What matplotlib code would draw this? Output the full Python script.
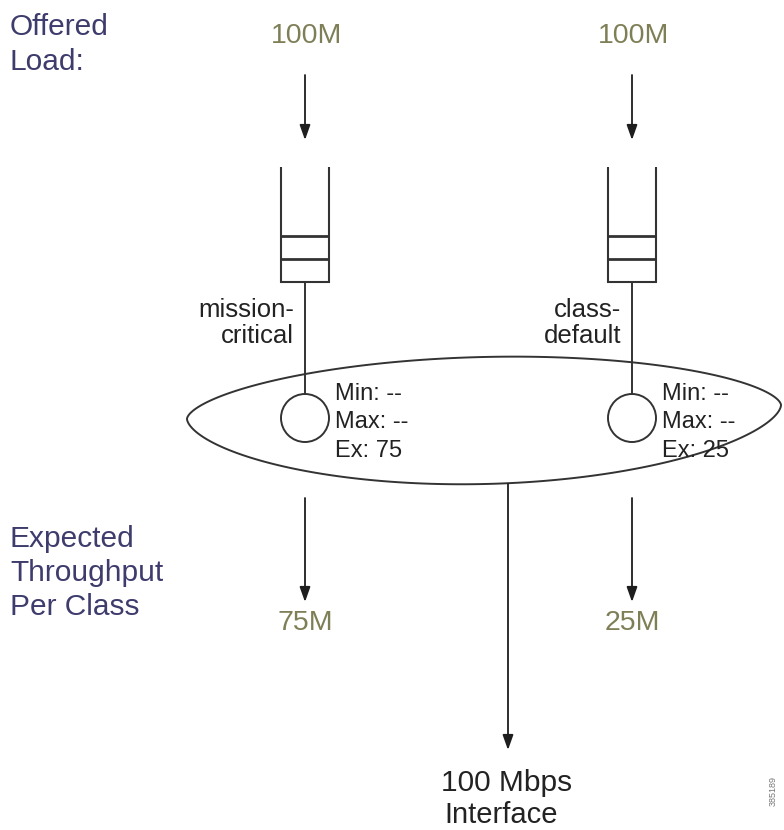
import numpy as np
import matplotlib
matplotlib.use("Agg")
import matplotlib.pyplot as plt
from matplotlib.patches import Circle, Polygon

# ---- data ----
class_names = [["mission-", "critical"], ["class-", "default"]]
offered_load = [100, 100]          # M
min_values = ["--", "--"]
max_values = ["--", "--"]
excess_values = [75, 25]
expected_throughput = [75, 25]     # M
interface_rate = 100               # Mbps
figure_id = "385189"
offered_label = ["Offered", "Load:"]
expected_label = ["Expected", "Throughput", "Per Class"]

# ---- layout (pixel coordinates) ----
W, H = 784, 830
class_x = [305, 632]
navy = "#3e3c6c"
olive = "#7f7f57"
ink = "#333333"
txt = "#222222"
plt.rcParams["font.family"] = ["Liberation Sans", "DejaVu Sans"]

fig = plt.figure(figsize=(W / 100, H / 100), dpi=100)
ax = fig.add_axes([0, 0, 1, 1])
ax.set_xlim(0, W)
ax.set_ylim(H, 0)
ax.axis("off")


def arrow(x, y0, y1):
    ax.annotate("", xy=(x, y1), xytext=(x, y0),
                arrowprops=dict(arrowstyle="-|>,head_length=0.9,head_width=0.32",
                                color="#1e1e1e", lw=1.3, shrinkA=0, shrinkB=0,
                                mutation_scale=10))


def lines(x, baselines, words, **kw):
    for yb, w in zip(baselines, words):
        ax.text(x, yb, w, va="baseline", **kw)


# left labels
lines(10, [35, 70], offered_label, color=navy, fontsize=21.5, ha="left")
lines(10, [547, 581, 615], expected_label, color=navy, fontsize=21.5, ha="left")

# lens-shaped ellipse
L = np.array([187.0, 419.0])
R = np.array([781.0, 405.0])
C = (L + R) / 2
a = np.linalg.norm(R - L) / 2
d = (R - L) / (2 * a)
n = np.array([-d[1], d[0]])
th = np.linspace(0, np.pi, 300)
u = -np.cos(th)
f = (1 - u ** 2) ** 0.6
top = C + np.outer(u * a, d) - np.outer(55 * f, n)
bot = C + np.outer(u * a, d) + np.outer(72 * f, n)
pts = np.vstack([top, bot[::-1]])
ax.add_patch(Polygon(pts, closed=True, fill=False, ec=ink, lw=1.4))

for i, cx in enumerate(class_x):
    # offered load
    ax.text(cx + 2, 43, f"{offered_load[i]}M", color=olive, fontsize=20.5,
            ha="center", va="baseline")
    arrow(cx, 75, 140)
    # queue
    qx0, qx1 = cx - 24, cx + 24
    ax.plot([qx0, qx0, qx1, qx1], [167, 282, 282, 167], color=ink, lw=1.5,
            solid_joinstyle="miter", solid_capstyle="butt")
    for yy in (236, 259):
        ax.plot([qx0, qx1], [yy, yy], color=ink, lw=2.0, solid_capstyle="butt")
    # connector to scheduler circle
    ax.plot([cx, cx], [282, 394], color=ink, lw=1.4)
    ax.add_patch(Circle((cx, 418), 24, fill=False, ec=ink, lw=1.4))
    # class name
    lines(cx - 11, [317, 343], class_names[i], color=txt, fontsize=18.5,
          ha="right")
    # parameters
    lines(cx + 30, [400, 428, 457],
          [f"Min: {min_values[i]}", f"Max: {max_values[i]}",
           f"Ex: {excess_values[i]}"], color=txt, fontsize=17, ha="left")
    # expected throughput
    arrow(cx, 498, 602)
    ax.text(cx, 630, f"{expected_throughput[i]}M", color=olive, fontsize=20.5,
            ha="center", va="baseline")

# interface
arrow(508, 484, 750)
ax.text(507, 791, f"{interface_rate} Mbps", color=txt, fontsize=21.5,
        ha="center", va="baseline")
ax.text(501, 823, "Interface", color=txt, fontsize=21,
        ha="center", va="baseline")

ax.text(773, 791, figure_id, color="#777777", fontsize=6.5, rotation=90,
        ha="center", va="center")

fig.savefig("out.png", dpi=100)
